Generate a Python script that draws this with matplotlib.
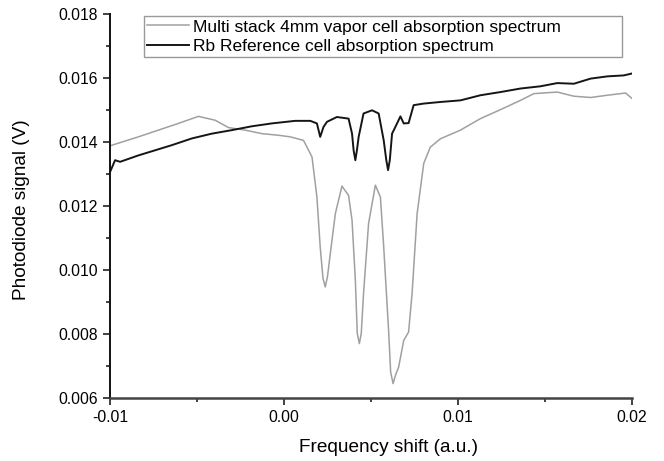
import matplotlib.pyplot as plt
from matplotlib.ticker import MultipleLocator, FormatStrFormatter

plt.rcParams['font.family'] = ['Liberation Sans', 'DejaVu Sans']

# Multi stack 4mm vapor cell (gray trace)
multi_x = [-0.0100, -0.00837, -0.00722, -0.00607, -0.00492, -0.00396, -0.00319,
           -0.00223, -0.00127, -0.00032, 0.00036, 0.00112, 0.00161, 0.00189,
           0.00208, 0.00224, 0.00237, 0.00250, 0.00266, 0.00295, 0.00333,
           0.00371, 0.00391, 0.00410, 0.00421, 0.00433, 0.00444, 0.00457,
           0.00486, 0.00525, 0.00554, 0.00573, 0.00601, 0.00613, 0.00627,
           0.00640, 0.00659, 0.00688, 0.00716, 0.00736, 0.00765, 0.00803,
           0.00841, 0.00899, 0.01014, 0.01129, 0.01244, 0.01359, 0.01436,
           0.01570, 0.01666, 0.01762, 0.01858, 0.01963, 0.02000]
multi_y = [0.01388, 0.01416, 0.01437, 0.01458, 0.01480, 0.01468, 0.01445,
           0.01437, 0.01426, 0.01421, 0.01416, 0.01405, 0.01353, 0.01228,
           0.01072, 0.00974, 0.00947, 0.00980, 0.01051, 0.01176, 0.01262,
           0.01233, 0.01155, 0.00968, 0.00802, 0.00770, 0.00802, 0.00926,
           0.01145, 0.01265, 0.01228, 0.01072, 0.00812, 0.00680, 0.00645,
           0.00670, 0.00697, 0.00780, 0.00806, 0.00926, 0.01176, 0.01333,
           0.01384, 0.01410, 0.01437, 0.01473, 0.01501, 0.01530, 0.01551,
           0.01556, 0.01543, 0.01539, 0.01546, 0.01553, 0.01536]

# Rb reference cell (black trace)
ref_x = [-0.0100, -0.00971, -0.00942, -0.00837, -0.00741, -0.00645, -0.00530,
         -0.00415, -0.00300, -0.00185, -0.00070, 0.00064, 0.00151, 0.00189,
         0.00208, 0.00227, 0.00247, 0.00304, 0.00371, 0.00391, 0.00400,
         0.00410, 0.00419, 0.00429, 0.00457, 0.00506, 0.00544, 0.00573,
         0.00588, 0.00598, 0.00608, 0.00621, 0.00640, 0.00669, 0.00688,
         0.00716, 0.00745, 0.00803, 0.00899, 0.01014, 0.01129, 0.01244,
         0.01359, 0.01474, 0.01570, 0.01666, 0.01762, 0.01858, 0.01953,
         0.02000]
ref_y = [0.01306, 0.01343, 0.01338, 0.01358, 0.01374, 0.01390, 0.01411,
         0.01426, 0.01437, 0.01449, 0.01458, 0.01466, 0.01466, 0.01458,
         0.01416, 0.01447, 0.01463, 0.01478, 0.01473, 0.01426, 0.01374,
         0.01343, 0.01374, 0.01416, 0.01489, 0.01499, 0.01489, 0.01405,
         0.01343, 0.01312, 0.01343, 0.01426, 0.01447, 0.01480, 0.01458,
         0.01459, 0.01515, 0.01520, 0.01525, 0.01530, 0.01546, 0.01556,
         0.01567, 0.01574, 0.01584, 0.01582, 0.01598, 0.01605, 0.01608,
         0.01614]

labels = ['Multi stack 4mm vapor cell absorption spectrum',
          'Rb Reference cell absorption spectrum']

fig = plt.figure(figsize=(6.64, 4.61), dpi=100)
ax = fig.add_axes([0.1657, 0.1367, 0.7861, 0.8330])

ax.plot(multi_x, multi_y, color='#a0a0a0', lw=1.1, label=labels[0])
ax.plot(ref_x, ref_y, color='#151515', lw=1.4, label=labels[1])

ax.set_xlim(-0.01, 0.02)
ax.set_ylim(0.006, 0.018)
ax.xaxis.set_major_locator(MultipleLocator(0.01))
ax.xaxis.set_minor_locator(MultipleLocator(0.005))
ax.yaxis.set_major_locator(MultipleLocator(0.002))
ax.yaxis.set_minor_locator(MultipleLocator(0.001))
ax.xaxis.set_major_formatter(FormatStrFormatter('%.2f'))
ax.yaxis.set_major_formatter(FormatStrFormatter('%.3f'))

for s in ['top', 'right']:
    ax.spines[s].set_visible(False)
ax.spines['left'].set_linewidth(1.4)
ax.spines['left'].set_color('#111111')
ax.spines['bottom'].set_linewidth(1.8)
ax.spines['bottom'].set_color('#444444')
ax.tick_params(which='major', direction='out', length=5, width=1.2,
               labelsize=11.3, pad=3.5, color='#222222')
ax.tick_params(which='minor', direction='out', length=3, width=1.2,
               color='#222222')

ax.set_xlabel('Frequency shift (a.u.)', fontsize=13.7, va='center')
ax.xaxis.set_label_coords(0.533, -0.128)
ax.set_ylabel('Photodiode signal (V)', fontsize=13.7, va='center', ha='center')
ax.yaxis.set_label_coords(-0.169, 0.49)

leg = ax.legend(loc='upper left', bbox_to_anchor=(0.065, 0.888, 0.916, 0.107),
                mode='expand', fontsize=12.5, frameon=True, fancybox=False,
                handlelength=2.4, handletextpad=0.25, borderpad=0.2,
                labelspacing=0.25, borderaxespad=0)
leg.get_frame().set_edgecolor('#808080')
leg.get_frame().set_linewidth(1.0)

fig.savefig('out.png', dpi=100)
